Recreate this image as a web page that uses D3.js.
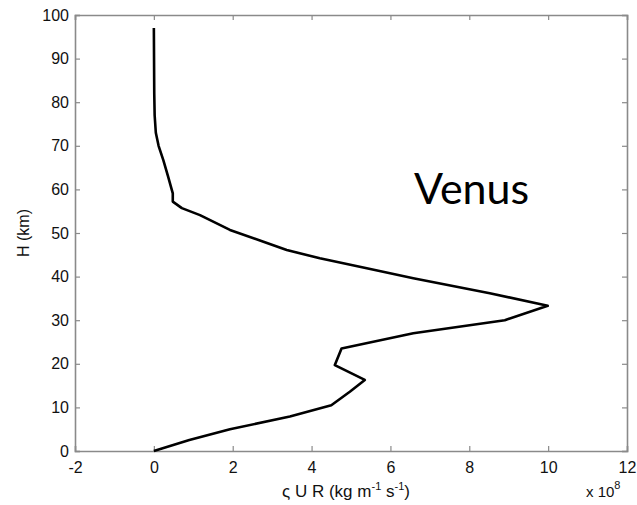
<!DOCTYPE html>
<html>
<head>
<meta charset="utf-8">
<script src="https://cdn.jsdelivr.net/npm/d3@7"></script>
<style>
  body { margin: 0; background: #fff; }
  svg { display: block; }
</style>
</head>
<body>
<div id="chart"></div>
<script>
// flux profile, x in units of 1e8, height in km
var flux = [0, 0.9, 1.93, 3.45, 4.5, 4.97, 5.35, 4.59, 4.76, 6.58, 8.9, 9.99, 8.52, 6.58, 5.4, 4.21, 3.37, 2.78, 1.93, 1.17, 0.71, 0.48, 0.48, 0.36, 0.24, 0.12, 0.05, 0.02, 0.01, 0];
var height = [0, 2.5, 5, 7.9, 10.5, 13.6, 16.3, 19.7, 23.5, 27, 30, 33.3, 36.2, 39.6, 41.9, 44.2, 46.1, 48, 50.7, 54.1, 55.7, 57.2, 59.1, 63, 66.7, 70, 73, 77, 82, 97];
var xTicks = [-2, 0, 2, 4, 6, 8, 10, 12];
var yTicks = [0, 10, 20, 30, 40, 50, 60, 70, 80, 90, 100];

var W = 637, H = 505;
var margin = {top: 15, right: 10, bottom: 54, left: 75};
var w = W - margin.left - margin.right,
    h = H - margin.top - margin.bottom;

var svg = d3.select("#chart").append("svg")
  .attr("width", W)
  .attr("height", H);

var g = svg.append("g")
  .attr("transform", "translate(" + margin.left + "," + margin.top + ")");

var x = d3.scaleLinear().domain([-2, 12]).range([0, w]);
var y = d3.scaleLinear().domain([0, 100]).range([h, 0]);

var axisColor = "#8a8a8a";
var fmt = function(d) { return String(d); };

// bottom + left axes with inward ticks (matlab style)
var xAxis = g.append("g")
  .attr("transform", "translate(0," + h + ")")
  .call(d3.axisBottom(x).tickValues(xTicks).tickFormat(fmt).tickSize(-5).tickPadding(11));
var yAxis = g.append("g")
  .call(d3.axisLeft(y).tickValues(yTicks).tickFormat(fmt).tickSize(-5).tickPadding(6));
// top + right, ticks only
var xTop = g.append("g")
  .call(d3.axisTop(x).tickValues(xTicks).tickSize(-5).tickFormat(""));
var yRight = g.append("g")
  .attr("transform", "translate(" + w + ",0)")
  .call(d3.axisRight(y).tickValues(yTicks).tickSize(-5).tickFormat(""));

[xAxis, yAxis, xTop, yRight].forEach(function(a) {
  a.attr("font-family", "Liberation Sans, Arial, sans-serif").attr("font-size", 16);
  a.select(".domain").attr("stroke", axisColor).attr("stroke-width", 1.6);
  a.selectAll(".tick line").attr("stroke", axisColor).attr("stroke-width", 1.2);
  a.selectAll(".tick text").attr("fill", "#111");
});

var pts = flux.map(function(d, i) { return [d, height[i]]; });
var line = d3.line()
  .x(function(d) { return x(d[0]); })
  .y(function(d) { return y(d[1]); });

g.append("path")
  .datum(pts)
  .attr("fill", "none")
  .attr("stroke", "#000")
  .attr("stroke-width", 2.6)
  .attr("stroke-linejoin", "round")
  .attr("d", line);

// labels
svg.append("text")
  .attr("transform", "translate(29," + (margin.top + h / 2) + ") rotate(-90)")
  .attr("text-anchor", "middle")
  .style("font-family", "Liberation Sans, Arial, sans-serif")
  .style("font-size", "16px")
  .attr("fill", "#111")
  .text("H (km)");

var xl = svg.append("text")
  .attr("x", 346)
  .attr("y", 497)
  .attr("text-anchor", "middle")
  .style("font-family", "Liberation Sans, Arial, sans-serif")
  .style("font-size", "17px")
  .attr("fill", "#111");
xl.append("tspan").text("ς U R (kg m");
xl.append("tspan").attr("dy", -7).style("font-size", "11px").text("-1");
xl.append("tspan").attr("dy", 7).text(" s");
xl.append("tspan").attr("dy", -7).style("font-size", "11px").text("-1");
xl.append("tspan").attr("dy", 7).text(")");

var ex = svg.append("text")
  .attr("x", 586)
  .attr("y", 497)
  .style("font-family", "Liberation Sans, Arial, sans-serif")
  .style("font-size", "15px")
  .attr("fill", "#111");
ex.append("tspan").text("x 10");
ex.append("tspan").attr("dy", -8).style("font-size", "11px").text("8");

svg.append("text")
  .attr("x", 414)
  .attr("y", 204)
  .style("font-family", "Lato, 'Open Sans', sans-serif")
  .style("font-size", "43px")
  .attr("fill", "#000")
  .text("Venus");
</script>
</body>
</html>
